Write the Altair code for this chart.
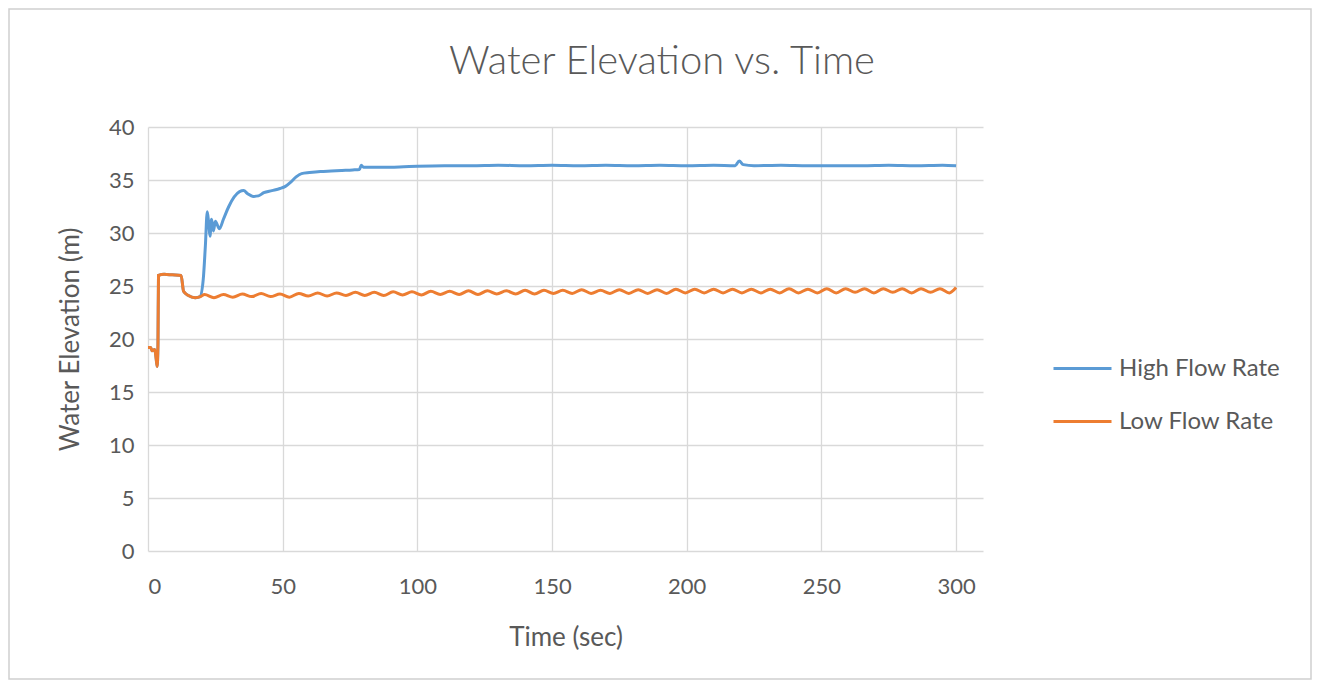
import altair as alt
import pandas as pd

# ---- data ----
series_names = ["High Flow Rate", "Low Flow Rate"]
series_colors = ["#5B9BD5", "#ED7D31"]
chart_title = "Water Elevation vs. Time"

high_t = [0, 1, 1.5, 2.5, 3.0, 3.4, 3.7, 3.9, 6, 9, 12.3, 13.2, 15, 17.5, 19.3,
          20.5, 21.3, 22.0, 22.5, 23.0, 23.6, 24.3, 25.0, 26.5, 28, 30, 32, 34, 35.5, 37, 39,
          41, 43, 46, 49, 51, 53, 55, 57, 60, 64, 68, 72, 76, 78.5, 79.2, 80, 85, 90, 95,
          100, 110, 120, 130, 140, 150, 160, 170, 180, 190, 200, 210, 218, 219.5, 221, 225,
          235, 245, 255, 265, 275, 285, 295, 300]
high_y = [19.2, 19.2, 18.9, 19.0, 18.2, 17.4, 19.5, 26.0, 26.1, 26.05, 26.0, 24.5, 24.1, 23.9, 24.0,
          25.6, 28.8, 32.0, 31.0, 29.7, 31.3, 30.2, 31.1, 30.4, 31.3, 32.5, 33.4, 33.9, 34.0, 33.7, 33.45,
          33.5, 33.8, 34.0, 34.2, 34.4, 34.8, 35.3, 35.6, 35.7, 35.8, 35.85, 35.9, 35.95, 36.0, 36.4, 36.2, 36.2, 36.2, 36.25,
          36.3, 36.35, 36.35, 36.4, 36.35, 36.4, 36.35, 36.4, 36.35, 36.4, 36.35, 36.4, 36.35, 36.8, 36.45, 36.35,
          36.4, 36.35, 36.35, 36.35, 36.4, 36.35, 36.4, 36.35]

low_t = [0, 1, 1.5, 2.5, 3.0, 3.4, 3.7, 3.9, 6, 9, 12.3, 13.2, 15, 17.5, 19.5,
         21, 24.5, 28, 31.5, 35, 38.5, 42, 45.5, 49, 52.5, 56, 59.5, 63, 66.5, 70, 73.5, 77,
         80.5, 84, 87.5, 91, 94.5, 98, 101.5, 105, 108.5, 112, 115.5, 119, 122.5, 126, 129.5,
         133, 136.5, 140, 143.5, 147, 150.5, 154, 157.5, 161, 164.5, 168, 171.5, 175, 178.5,
         182, 185.5, 189, 192.5, 196, 199.5, 203, 206.5, 210, 213.5, 217, 220.5, 224, 227.5,
         231, 234.5, 238, 241.5, 245, 248.5, 252, 255.5, 259, 262.5, 266, 269.5, 273, 276.5,
         280, 283.5, 287, 290.5, 294, 297.5, 300]
low_y = [19.2, 19.2, 18.9, 19.0, 18.2, 17.4, 19.5, 26.0, 26.1, 26.05, 26.0, 24.5, 24.1, 23.9, 24.0,
         24.2, 23.9, 24.2, 23.95, 24.25, 24.0, 24.3, 24.0, 24.25, 23.95, 24.3, 24.05, 24.35, 24.05, 24.35, 24.1, 24.4,
         24.1, 24.4, 24.1, 24.45, 24.15, 24.45, 24.15, 24.5, 24.2, 24.5, 24.2, 24.55, 24.2, 24.55, 24.25,
         24.55, 24.25, 24.6, 24.25, 24.6, 24.3, 24.6, 24.3, 24.65, 24.3, 24.6, 24.3, 24.65, 24.3,
         24.65, 24.3, 24.65, 24.3, 24.7, 24.35, 24.7, 24.35, 24.7, 24.35, 24.7, 24.35, 24.7, 24.35,
         24.7, 24.35, 24.75, 24.35, 24.7, 24.35, 24.75, 24.35, 24.75, 24.4, 24.75, 24.35, 24.75, 24.4,
         24.75, 24.35, 24.75, 24.4, 24.75, 24.35, 24.85]

x_ticks = [0, 50, 100, 150, 200, 250, 300]
y_ticks = [0, 5, 10, 15, 20, 25, 30, 35, 40]

df = pd.concat([
    pd.DataFrame({"t": high_t, "y": high_y, "series": series_names[0]}),
    pd.DataFrame({"t": low_t, "y": low_y, "series": series_names[1]}),
], ignore_index=True)

TXT = "#595959"
GRID = "#d9d9d9"
FONT = "Lato"

W, H = 835, 424
PAD_L, PAD_T = 140, 119
TOTAL_W, TOTAL_H = 1304, 672

x_enc = alt.X("t:Q", scale=alt.Scale(domain=[0, 310], nice=False, zero=False),
              axis=alt.Axis(values=x_ticks, title="Time (sec)", grid=True, ticks=False,
                            domain=False, labelPadding=25, titlePadding=27))
y_enc = alt.Y("y:Q", scale=alt.Scale(domain=[0, 40], nice=False),
              axis=alt.Axis(values=y_ticks, title="Water Elevation (m)", grid=True, ticks=False,
                            domain=False, labelPadding=14, titlePadding=25))
color_enc = alt.Color("series:N", scale=alt.Scale(domain=series_names, range=series_colors),
                      legend=alt.Legend(title=None, orient="none", legendX=904, legendY=211,
                                        symbolType="stroke", symbolSize=3364, symbolStrokeWidth=3,
                                        labelFontSize=24, labelColor=TXT, labelFont=FONT,
                                        labelOffset=6, rowPadding=10, labelLimit=400))

base = alt.Chart(df)
high_line = base.transform_filter(alt.datum.series == series_names[0]).mark_line(
    strokeWidth=3, interpolate="monotone").encode(x=x_enc, y=y_enc, color=color_enc)
low_line = base.transform_filter(alt.datum.series == series_names[1]).mark_line(
    strokeWidth=3, interpolate="monotone").encode(x=x_enc, y=y_enc, color=color_enc)

frame = alt.Chart(alt.Data(values=[{}])).mark_rect(
    fill=None, stroke="#d0d0d0", strokeWidth=1.5).encode(
    x=alt.value(-139), x2=alt.value(TOTAL_W - PAD_L - 1),
    y=alt.value(-118), y2=alt.value(TOTAL_H - PAD_T - 1))

title_txt = alt.Chart(alt.Data(values=[{"label": chart_title}])).mark_text(
    font=FONT, fontSize=40, fontWeight=300, color=TXT, align="center", baseline="middle").encode(
    text="label:N", x=alt.value(514), y=alt.value(-65))

chart = alt.layer(frame, high_line, low_line, title_txt).properties(
    width=W, height=H,
    autosize=alt.AutoSizeParams(type="none"),
    padding={"left": PAD_L, "top": PAD_T, "right": TOTAL_W - PAD_L - W, "bottom": TOTAL_H - PAD_T - H},
).configure_view(stroke=None).configure_axis(
    gridColor=GRID, gridWidth=1.3, labelColor=TXT, labelFontSize=22, labelFont=FONT,
    titleColor=TXT, titleFontSize=26, titleFont=FONT, titleFontWeight="normal"
)

chart.save("out.html", embed_options={"renderer": "svg", "actions": False})
